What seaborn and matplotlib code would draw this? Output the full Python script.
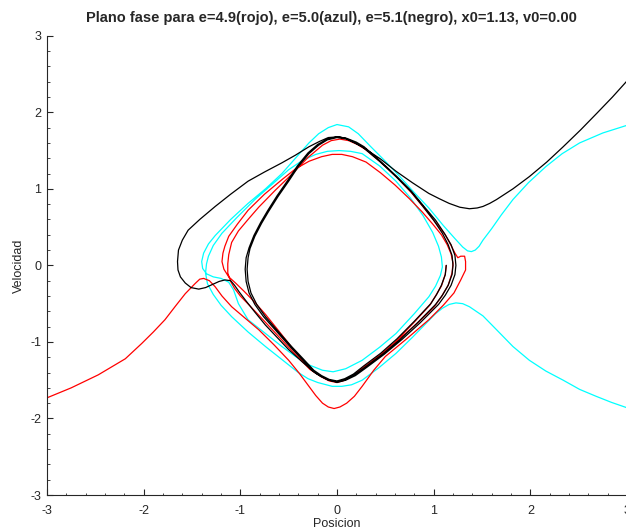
import numpy as np
import matplotlib
matplotlib.use("Agg")
import matplotlib.pyplot as plt
import seaborn as sns
from matplotlib.ticker import AutoMinorLocator

# Trayectorias (posicion, velocidad) leidas del grafico
# e=4.9 (rojo)
rojo = [(1.13, 0.00), (1.12, -0.12), (1.08, -0.27), (1.02, -0.40), (0.96, -0.52), (0.80, -0.74),
        (0.62, -0.98), (0.45, -1.17), (0.28, -1.33), (0.17, -1.43), (0.08, -1.50), (0.00, -1.52),
        (-0.08, -1.50), (-0.16, -1.45), (-0.26, -1.37), (-0.35, -1.25), (-0.45, -1.10), (-0.60, -0.86),
        (-0.74, -0.64), (-0.86, -0.47), (-0.96, -0.34), (-1.05, -0.23), (-1.12, -0.15), (-1.17, -0.05),
        (-1.19, 0.05), (-1.18, 0.16), (-1.16, 0.25), (-1.12, 0.38), (-1.03, 0.54), (-0.92, 0.72),
        (-0.75, 0.93), (-0.57, 1.12), (-0.43, 1.26), (-0.29, 1.36), (-0.16, 1.42), (-0.05, 1.45),
        (0.05, 1.45), (0.16, 1.42), (0.30, 1.35), (0.45, 1.21), (0.60, 1.05), (0.75, 0.87),
        (0.88, 0.70), (0.99, 0.54), (1.08, 0.40), (1.14, 0.27), (1.18, 0.15), (1.20, 0.03),
        (1.19, -0.10), (1.15, -0.26), (1.08, -0.41), (1.00, -0.55), (0.82, -0.77), (0.62, -0.99),
        (0.45, -1.17), (0.28, -1.33), (0.17, -1.44), (0.08, -1.50), (0.00, -1.53), (-0.08, -1.51),
        (-0.17, -1.45), (-0.28, -1.36), (-0.38, -1.23), (-0.50, -1.07), (-0.64, -0.88), (-0.78, -0.69),
        (-0.90, -0.53), (-1.00, -0.40), (-1.06, -0.30), (-1.10, -0.21), (-1.13, -0.10), (-1.13, 0.02),
        (-1.12, 0.14), (-1.09, 0.30), (-1.02, 0.45), (-0.92, 0.60), (-0.81, 0.76), (-0.64, 0.98),
        (-0.46, 1.20), (-0.30, 1.41), (-0.15, 1.57), (-0.06, 1.63), (0.03, 1.65), (0.12, 1.63),
        (0.21, 1.58), (0.30, 1.51), (0.46, 1.34), (0.62, 1.15), (0.77, 0.95), (0.90, 0.75),
        (1.02, 0.56), (1.12, 0.40), (1.18, 0.26), (1.22, 0.16), (1.25, 0.10), (1.28, 0.12),
        (1.32, 0.12), (1.33, 0.05), (1.33, -0.06), (1.28, -0.19), (1.21, -0.36), (1.10, -0.52),
        (0.95, -0.71), (0.72, -0.96), (0.50, -1.19), (0.38, -1.37), (0.26, -1.58), (0.18, -1.71),
        (0.10, -1.80), (0.03, -1.85), (-0.03, -1.87), (-0.09, -1.85), (-0.15, -1.80), (-0.22, -1.70),
        (-0.29, -1.58), (-0.39, -1.41), (-0.50, -1.24), (-0.65, -1.04), (-0.81, -0.84), (-0.95, -0.69),
        (-1.09, -0.54), (-1.19, -0.40), (-1.26, -0.28), (-1.32, -0.20), (-1.38, -0.17), (-1.42, -0.18),
        (-1.47, -0.24), (-1.57, -0.37), (-1.67, -0.53), (-1.78, -0.71), (-1.90, -0.87), (-2.02, -1.02),
        (-2.19, -1.22), (-2.47, -1.43), (-2.75, -1.60), (-3.00, -1.73)]

# e=5.0 (azul, dibujado en cian)
cian = [(3.00, -1.86), (2.84, -1.79), (2.68, -1.71), (2.51, -1.62), (2.34, -1.50), (2.16, -1.38),
        (1.99, -1.24), (1.82, -1.06), (1.65, -0.84), (1.51, -0.66), (1.37, -0.54), (1.30, -0.50),
        (1.23, -0.49), (1.16, -0.51), (1.09, -0.56), (1.02, -0.63), (0.95, -0.72), (0.78, -0.94),
        (0.61, -1.15), (0.43, -1.34), (0.26, -1.50), (0.15, -1.56), (0.05, -1.58), (-0.05, -1.58),
        (-0.20, -1.53), (-0.30, -1.48), (-0.40, -1.40), (-0.57, -1.23), (-0.74, -1.06), (-0.92, -0.87),
        (-1.09, -0.67), (-1.20, -0.52), (-1.28, -0.38), (-1.34, -0.24), (-1.36, -0.10), (-1.35, 0.02),
        (-1.33, 0.12), (-1.28, 0.26), (-1.19, 0.42), (-1.04, 0.62), (-0.85, 0.86), (-0.67, 1.06),
        (-0.50, 1.25), (-0.36, 1.37), (-0.22, 1.45), (-0.10, 1.49), (0.02, 1.50), (0.14, 1.49),
        (0.26, 1.46), (0.44, 1.30), (0.61, 1.10), (0.76, 0.88), (0.89, 0.65), (0.99, 0.43),
        (1.05, 0.25), (1.08, 0.11), (1.09, -0.02), (1.07, -0.13), (1.02, -0.27), (0.95, -0.41),
        (0.80, -0.63), (0.61, -0.89), (0.44, -1.07), (0.26, -1.24), (0.09, -1.35), (-0.04, -1.39),
        (-0.15, -1.37), (-0.29, -1.30), (-0.43, -1.19), (-0.57, -1.06), (-0.74, -0.89), (-0.92, -0.71),
        (-1.02, -0.50), (-1.07, -0.32), (-1.12, -0.22), (-1.20, -0.17), (-1.28, -0.15), (-1.35, -0.11),
        (-1.39, -0.04), (-1.40, 0.05), (-1.38, 0.16), (-1.33, 0.28), (-1.26, 0.39), (-1.10, 0.60),
        (-0.92, 0.81), (-0.74, 1.00), (-0.57, 1.20), (-0.43, 1.40), (-0.29, 1.60), (-0.19, 1.72),
        (-0.09, 1.80), (0.00, 1.84), (0.12, 1.81), (0.22, 1.72), (0.35, 1.55), (0.50, 1.36),
        (0.65, 1.16), (0.80, 0.95), (0.95, 0.75), (1.10, 0.52), (1.22, 0.35), (1.30, 0.24),
        (1.35, 0.19), (1.39, 0.18), (1.43, 0.20), (1.47, 0.25), (1.51, 0.33), (1.60, 0.48),
        (1.70, 0.66), (1.82, 0.86), (1.98, 1.08), (2.16, 1.29), (2.33, 1.46), (2.51, 1.60),
        (2.75, 1.73), (3.00, 1.83)]

# e=5.1 (negro)
negro = [(1.13, 0.00), (1.12, -0.12), (1.08, -0.26), (1.03, -0.38), (0.97, -0.50), (0.80, -0.73),
         (0.62, -0.96), (0.45, -1.15), (0.28, -1.31), (0.17, -1.42), (0.08, -1.48), (0.00, -1.51),
         (-0.08, -1.49), (-0.16, -1.44), (-0.24, -1.37), (-0.35, -1.22), (-0.47, -1.06), (-0.61, -0.86),
         (-0.74, -0.67), (-0.83, -0.51), (-0.89, -0.36), (-0.92, -0.21), (-0.93, -0.05), (-0.92, 0.10),
         (-0.90, 0.22), (-0.85, 0.38), (-0.78, 0.55), (-0.71, 0.70), (-0.61, 0.90), (-0.50, 1.10),
         (-0.40, 1.29), (-0.29, 1.46), (-0.19, 1.57), (-0.10, 1.64), (0.00, 1.67), (0.10, 1.65),
         (0.19, 1.60), (0.27, 1.54), (0.44, 1.36), (0.61, 1.16), (0.76, 0.97), (0.89, 0.77),
         (1.00, 0.59), (1.09, 0.42), (1.15, 0.27), (1.19, 0.13), (1.20, 0.00),
         (1.19, -0.12), (1.15, -0.26), (1.09, -0.39), (1.02, -0.51), (0.84, -0.74), (0.65, -0.97),
         (0.47, -1.16), (0.30, -1.32), (0.18, -1.43), (0.09, -1.49), (0.00, -1.52), (-0.09, -1.50),
         (-0.17, -1.45), (-0.25, -1.38), (-0.36, -1.23), (-0.48, -1.07), (-0.62, -0.87), (-0.76, -0.67),
         (-0.85, -0.51), (-0.91, -0.36), (-0.94, -0.21), (-0.95, -0.05), (-0.94, 0.10), (-0.91, 0.23),
         (-0.86, 0.39), (-0.79, 0.56), (-0.72, 0.71), (-0.62, 0.91), (-0.51, 1.11), (-0.41, 1.30),
         (-0.30, 1.47), (-0.20, 1.58), (-0.10, 1.65), (0.00, 1.68), (0.10, 1.66), (0.20, 1.61),
         (0.28, 1.55), (0.45, 1.36), (0.62, 1.16), (0.77, 0.97), (0.90, 0.77), (1.02, 0.59),
         (1.11, 0.42), (1.18, 0.27), (1.22, 0.13), (1.23, 0.00),
         (1.22, -0.12), (1.18, -0.26), (1.12, -0.39), (1.05, -0.51), (0.86, -0.75), (0.67, -0.97),
         (0.49, -1.16), (0.31, -1.33), (0.19, -1.44), (0.09, -1.50), (0.00, -1.53), (-0.10, -1.49),
         (-0.22, -1.41), (-0.36, -1.26), (-0.50, -1.10), (-0.62, -0.94), (-0.74, -0.78), (-0.85, -0.61),
         (-0.95, -0.45), (-1.01, -0.35), (-1.06, -0.26), (-1.10, -0.20), (-1.16, -0.19), (-1.22, -0.21),
         (-1.29, -0.25), (-1.36, -0.29), (-1.43, -0.31), (-1.51, -0.29), (-1.57, -0.23), (-1.62, -0.15),
         (-1.645, -0.06), (-1.65, 0.05), (-1.64, 0.20), (-1.60, 0.33), (-1.54, 0.46), (-1.42, 0.60),
         (-1.26, 0.77), (-1.10, 0.93), (-0.92, 1.10), (-0.75, 1.22), (-0.57, 1.34), (-0.43, 1.44),
         (-0.29, 1.55), (-0.18, 1.62), (-0.09, 1.67), (0.02, 1.68), (0.09, 1.66), (0.26, 1.55),
         (0.45, 1.39), (0.61, 1.23), (0.78, 1.08), (0.95, 0.94), (1.06, 0.87), (1.16, 0.81),
         (1.27, 0.76), (1.37, 0.74), (1.45, 0.75), (1.51, 0.77), (1.58, 0.81), (1.65, 0.86),
         (1.82, 1.00), (1.99, 1.16), (2.17, 1.35), (2.34, 1.55), (2.52, 1.77), (2.69, 1.99),
         (2.85, 2.20), (3.00, 2.41)]

ticks = [-3, -2, -1, 0, 1, 2, 3]

sns.set_style("ticks")
plt.rcParams['font.family'] = ['Liberation Sans', 'DejaVu Sans']
plt.rcParams['axes.unicode_minus'] = False

fig = plt.figure(figsize=(6.26, 5.32), dpi=100)
ax = fig.add_axes([0.0751, 0.0695, 0.9265, 0.8633])

for tray, col in [(cian, '#00ffff'), (rojo, '#ff0000'), (negro, '#000000')]:
    arr = np.array(tray)
    sns.lineplot(x=arr[:, 0], y=arr[:, 1], sort=False, estimator=None, color=col, lw=0.9, ax=ax)

ax.set_xlim(-3, 3)
ax.set_ylim(-3, 3)
ax.set_xticks(ticks)
ax.set_yticks(ticks)
ax.xaxis.set_minor_locator(AutoMinorLocator(5))
ax.yaxis.set_minor_locator(AutoMinorLocator(5))
ax.tick_params(which='major', direction='in', length=4.5, width=0.8, labelsize=9, colors='#262626', pad=4)
ax.tick_params(which='minor', direction='in', length=1.8, width=0.6, colors='#262626')
ax.tick_params(axis='x', pad=7)
for s in ['top', 'right']:
    ax.spines[s].set_visible(False)
for s in ['left', 'bottom']:
    ax.spines[s].set_color('#262626')
    ax.spines[s].set_linewidth(0.8)

ax.set_xlabel('Posicion', fontsize=9, labelpad=1, color='#262626')
ax.set_ylabel('Velocidad', fontsize=9, labelpad=4, color='#262626')
ax.set_title('Plano fase para e=4.9(rojo), e=5.0(azul), e=5.1(negro), x0=1.13, v0=0.00',
             fontsize=10.5, fontweight='bold', pad=10, x=0.49)

fig.savefig('out.png', dpi=100)
